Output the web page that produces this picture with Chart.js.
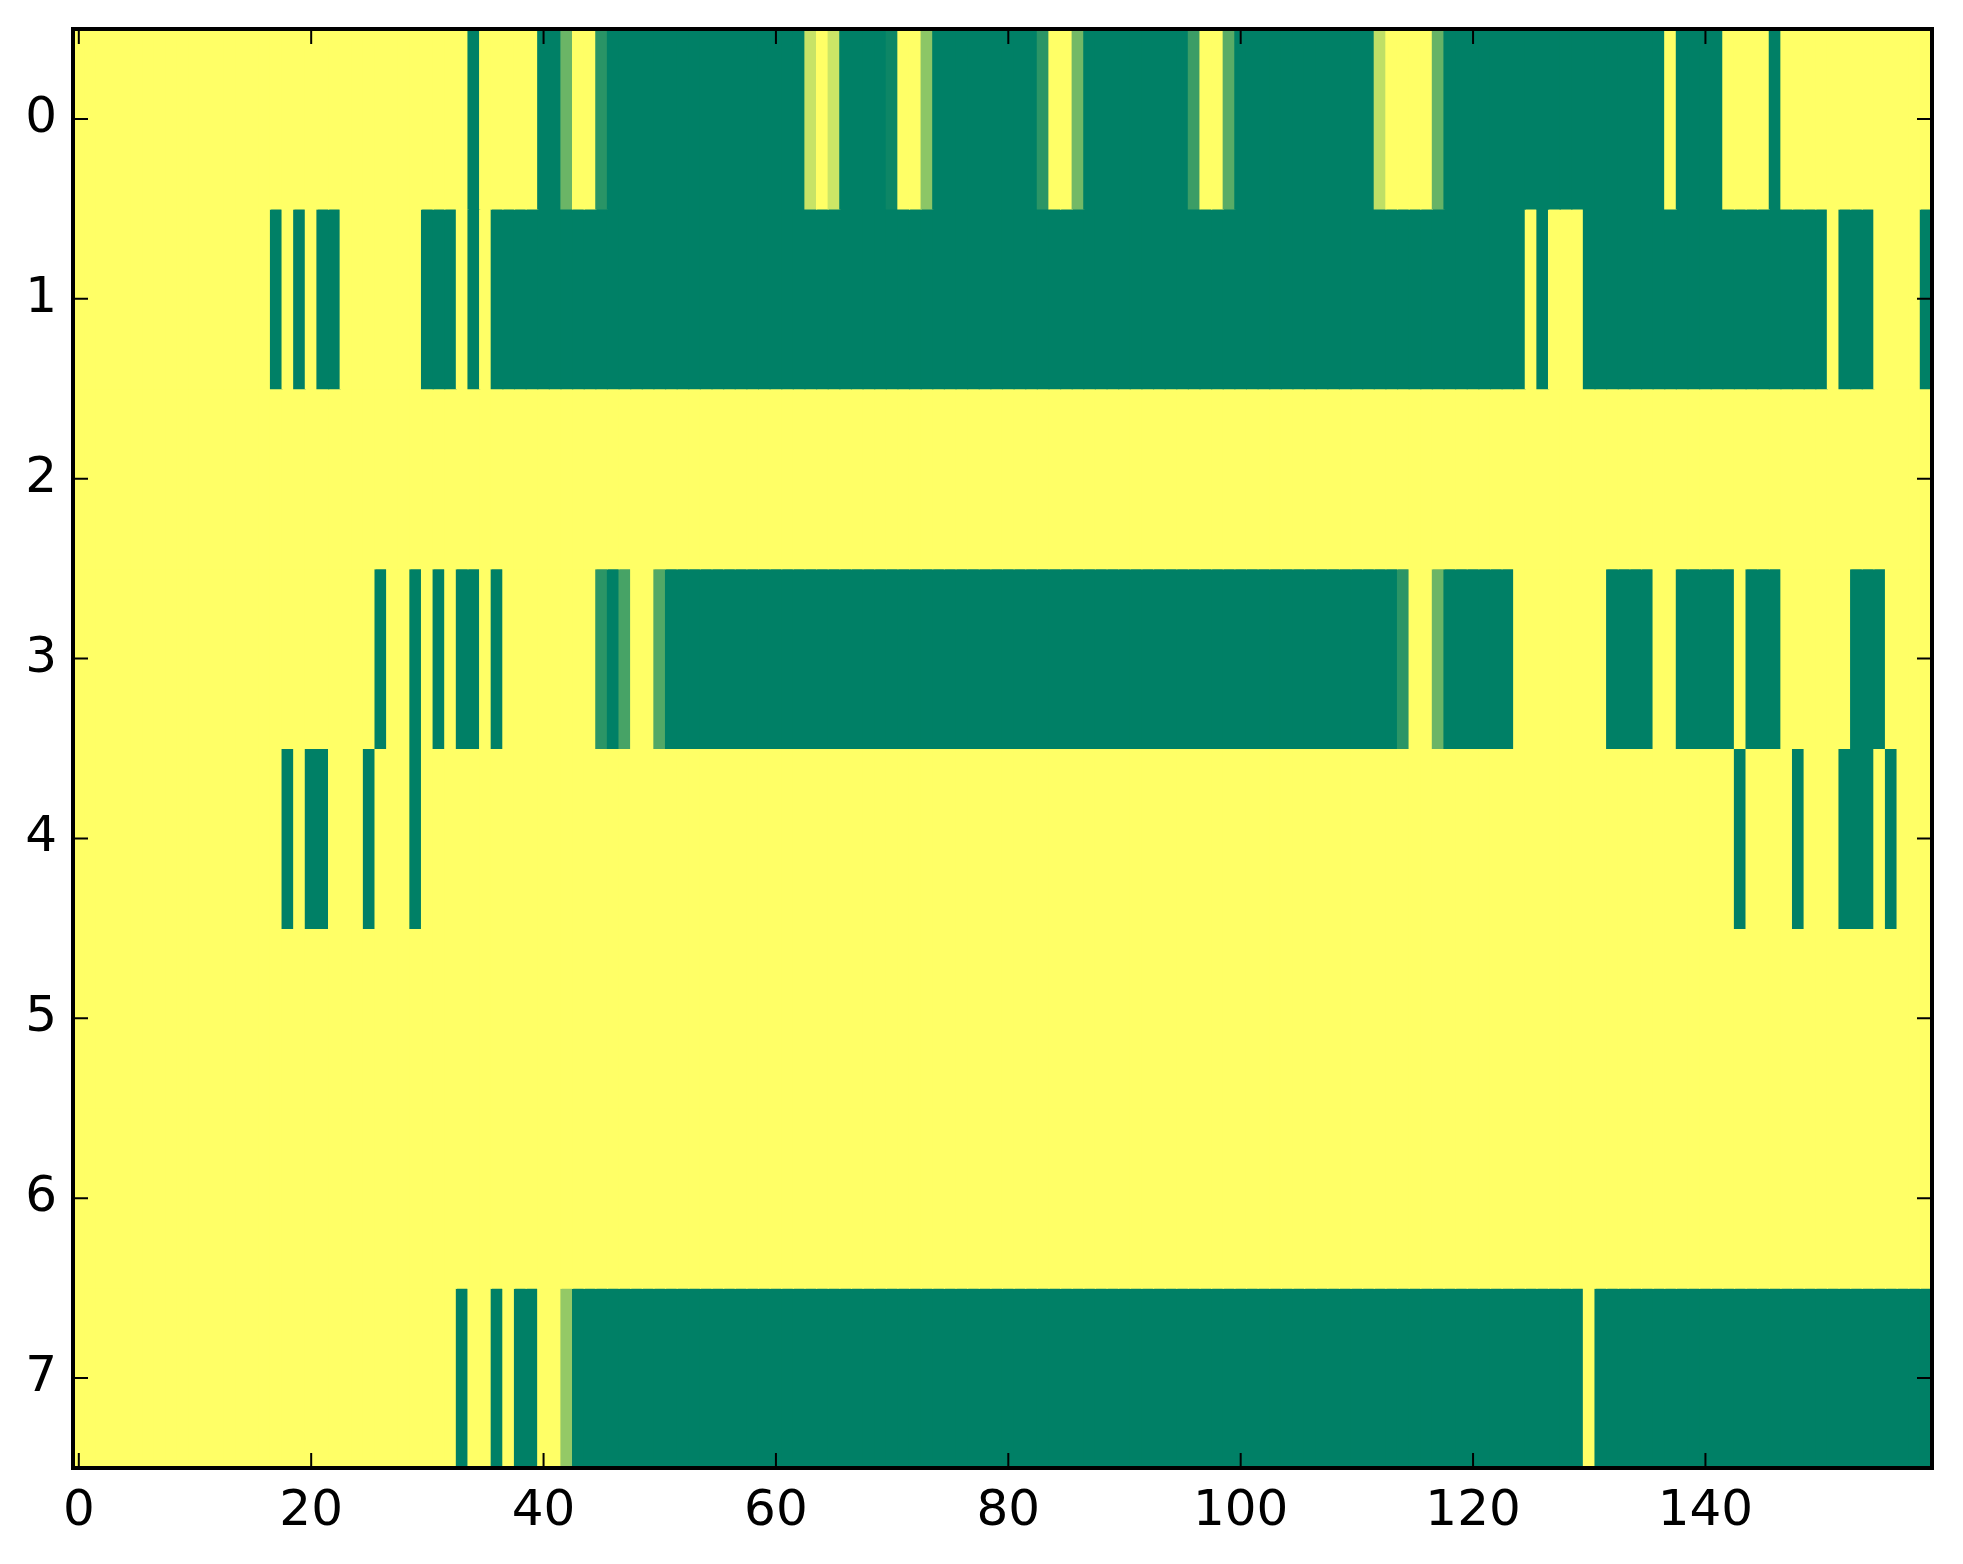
<!DOCTYPE html>
<html>
<head>
<meta charset="utf-8">
<script src="https://cdn.jsdelivr.net/npm/chart.js@4.4.0/dist/chart.umd.min.js"></script>
<style>
  html, body { margin: 0; padding: 0; background: #fff; }
  #wrap { width: 1963px; height: 1564px; position: relative; }
</style>
</head>
<body>
<div id="wrap"><canvas id="chart"></canvas></div>
<script>
// one value per column (0..159) for every row, 0 = green, 1 = yellow
const row0 = [
  1,1,1,1,1,1,1,1,1,1,1,1,1,1,1,1,1,1,1,1,
  1,1,1,1,1,1,1,1,1,1,1,1,1,1,0,1,1,1,1,1,
  0,0,0.42,1,1,0.16,0,0,0,0,0,0,0,0,0,0,0,0,0,0,
  0,0,0,0.78,1,0.8,0,0,0,0,0.05,1,1,0.55,0,0,0,0,0,0,
  0,0,0,0.17,1,1,0.45,0,0,0,0,0,0,0,0,0,0.23,1,1,0.35,
  0,0,0,0,0,0,0,0,0,0,0,0,0.75,1,1,1,1,0.4,0,0,
  0,0,0,0,0,0,0,0,0,0,0,0,0,0,0,0,0,1,0,0,
  0,0,1,1,1,1,0,1,1,1,1,1,1,1,1,1,1,1,1,1
];
const row1 = [
  1,1,1,1,1,1,1,1,1,1,1,1,1,1,1,1,1,0,1,0,
  1,0,0,1,1,1,1,1,1,1,0,0,0,1,0,1,0,0,0,0,
  0,0,0,0,0,0,0,0,0,0,0,0,0,0,0,0,0,0,0,0,
  0,0,0,0,0,0,0,0,0,0,0,0,0,0,0,0,0,0,0,0,
  0,0,0,0,0,0,0,0,0,0,0,0,0,0,0,0,0,0,0,0,
  0,0,0,0,0,0,0,0,0,0,0,0,0,0,0,0,0,0,0,0,
  0,0,0,0,0,1,0,1,1,1,0,0,0,0,0,0,0,0,0,0,
  0,0,0,0,0,0,0,0,0,0,0,1,0,0,0,1,1,1,1,0
];
const row2 = [
  1,1,1,1,1,1,1,1,1,1,1,1,1,1,1,1,1,1,1,1,
  1,1,1,1,1,1,1,1,1,1,1,1,1,1,1,1,1,1,1,1,
  1,1,1,1,1,1,1,1,1,1,1,1,1,1,1,1,1,1,1,1,
  1,1,1,1,1,1,1,1,1,1,1,1,1,1,1,1,1,1,1,1,
  1,1,1,1,1,1,1,1,1,1,1,1,1,1,1,1,1,1,1,1,
  1,1,1,1,1,1,1,1,1,1,1,1,1,1,1,1,1,1,1,1,
  1,1,1,1,1,1,1,1,1,1,1,1,1,1,1,1,1,1,1,1,
  1,1,1,1,1,1,1,1,1,1,1,1,1,1,1,1,1,1,1,1
];
const row3 = [
  1,1,1,1,1,1,1,1,1,1,1,1,1,1,1,1,1,1,1,1,
  1,1,1,1,1,1,0,1,1,0,1,0,1,0,0,1,0,1,1,1,
  1,1,1,1,1,0.17,0,0.28,1,1,0.32,0,0,0,0,0,0,0,0,0,
  0,0,0,0,0,0,0,0,0,0,0,0,0,0,0,0,0,0,0,0,
  0,0,0,0,0,0,0,0,0,0,0,0,0,0,0,0,0,0,0,0,
  0,0,0,0,0,0,0,0,0,0,0,0,0,0,0.17,1,1,0.42,0,0,
  0,0,0,0,1,1,1,1,1,1,1,1,0,0,0,0,1,1,0,0,
  0,0,0,1,0,0,0,1,1,1,1,1,1,0,0,0,1,1,1,1
];
const row4 = [
  1,1,1,1,1,1,1,1,1,1,1,1,1,1,1,1,1,1,0,1,
  0,0,1,1,1,0,1,1,1,0,1,1,1,1,1,1,1,1,1,1,
  1,1,1,1,1,1,1,1,1,1,1,1,1,1,1,1,1,1,1,1,
  1,1,1,1,1,1,1,1,1,1,1,1,1,1,1,1,1,1,1,1,
  1,1,1,1,1,1,1,1,1,1,1,1,1,1,1,1,1,1,1,1,
  1,1,1,1,1,1,1,1,1,1,1,1,1,1,1,1,1,1,1,1,
  1,1,1,1,1,1,1,1,1,1,1,1,1,1,1,1,1,1,1,1,
  1,1,1,0,1,1,1,1,0,1,1,1,0,0,0,1,0,1,1,1
];
const row5 = [
  1,1,1,1,1,1,1,1,1,1,1,1,1,1,1,1,1,1,1,1,
  1,1,1,1,1,1,1,1,1,1,1,1,1,1,1,1,1,1,1,1,
  1,1,1,1,1,1,1,1,1,1,1,1,1,1,1,1,1,1,1,1,
  1,1,1,1,1,1,1,1,1,1,1,1,1,1,1,1,1,1,1,1,
  1,1,1,1,1,1,1,1,1,1,1,1,1,1,1,1,1,1,1,1,
  1,1,1,1,1,1,1,1,1,1,1,1,1,1,1,1,1,1,1,1,
  1,1,1,1,1,1,1,1,1,1,1,1,1,1,1,1,1,1,1,1,
  1,1,1,1,1,1,1,1,1,1,1,1,1,1,1,1,1,1,1,1
];
const row6 = [
  1,1,1,1,1,1,1,1,1,1,1,1,1,1,1,1,1,1,1,1,
  1,1,1,1,1,1,1,1,1,1,1,1,1,1,1,1,1,1,1,1,
  1,1,1,1,1,1,1,1,1,1,1,1,1,1,1,1,1,1,1,1,
  1,1,1,1,1,1,1,1,1,1,1,1,1,1,1,1,1,1,1,1,
  1,1,1,1,1,1,1,1,1,1,1,1,1,1,1,1,1,1,1,1,
  1,1,1,1,1,1,1,1,1,1,1,1,1,1,1,1,1,1,1,1,
  1,1,1,1,1,1,1,1,1,1,1,1,1,1,1,1,1,1,1,1,
  1,1,1,1,1,1,1,1,1,1,1,1,1,1,1,1,1,1,1,1
];
const row7 = [
  1,1,1,1,1,1,1,1,1,1,1,1,1,1,1,1,1,1,1,1,
  1,1,1,1,1,1,1,1,1,1,1,1,1,0,1,1,0,1,0,0,
  1,1,0.58,0,0,0,0,0,0,0,0,0,0,0,0,0,0,0,0,0,
  0,0,0,0,0,0,0,0,0,0,0,0,0,0,0,0,0,0,0,0,
  0,0,0,0,0,0,0,0,0,0,0,0,0,0,0,0,0,0,0,0,
  0,0,0,0,0,0,0,0,0,0,0,0,0,0,0,0,0,0,0,0,
  0,0,0,0,0,0,0,0,0,0,1,0,0,0,0,0,0,0,0,0,
  0,0,0,0,0,0,0,0,0,0,0,0,0,0,0,0,0,0,0,0
];

const rows = [row0, row1, row2, row3, row4, row5, row6, row7];
const xTicks = [0, 20, 40, 60, 80, 100, 120, 140];
const yTicks = [0, 1, 2, 3, 4, 5, 6, 7];

// matplotlib "summer" colormap
function summer(v) {
  const r = Math.round(255 * v);
  const g = Math.round(127.5 + 127.5 * v);
  return 'rgb(' + r + ',' + g + ',102)';
}

const datasets = rows.map(function (vals, r) {
  return {
    data: vals.map(function (v, c) { return { x: c, y: [r - 0.5, r + 0.5] }; }),
    backgroundColor: vals.map(summer),
    borderWidth: 0,
    inflateAmount: 0.6,
    barPercentage: 1,
    categoryPercentage: 1,
    grouped: false
  };
});

// frame with inward ticks on all four sides
const framePlugin = {
  id: 'frame',
  afterDraw(chart) {
    const ctx = chart.ctx;
    const a = chart.chartArea;
    const xs = chart.scales.x;
    const ys = chart.scales.y;
    const len = 15;
    ctx.save();
    ctx.strokeStyle = '#000';
    ctx.lineWidth = 2;
    ctx.beginPath();
    xTicks.forEach(function (t) {
      const px = xs.getPixelForValue(t);
      ctx.moveTo(px, a.bottom); ctx.lineTo(px, a.bottom - len);
      ctx.moveTo(px, a.top); ctx.lineTo(px, a.top + len);
    });
    yTicks.forEach(function (t) {
      const py = ys.getPixelForValue(t);
      ctx.moveTo(a.left, py); ctx.lineTo(a.left + len, py);
      ctx.moveTo(a.right, py); ctx.lineTo(a.right - len, py);
    });
    ctx.stroke();
    ctx.lineWidth = 4;
    ctx.strokeRect(a.left, a.top, a.right - a.left, a.bottom - a.top);
    ctx.restore();
  }
};

const tickFont = { family: 'DejaVu Sans', size: 50 };

function noPadding(scale) {
  scale.paddingTop = 0;
  scale.paddingBottom = 0;
  scale.paddingLeft = 0;
  scale.paddingRight = 0;
}

new Chart(document.getElementById('chart'), {
  type: 'bar',
  data: { datasets: datasets },
  options: {
    responsive: true,
    maintainAspectRatio: false,
    animation: false,
    layout: { autoPadding: false, padding: { top: 29, right: 31, left: 0, bottom: 0 } },
    plugins: { legend: { display: false }, tooltip: { enabled: false } },
    scales: {
      x: {
        type: 'linear',
        min: -0.5,
        max: 159.5,
        offset: false,
        grid: { display: false, drawTicks: false, tickLength: 0 },
        border: { display: false },
        afterFit(scale) { scale.height = 96; noPadding(scale); },
        afterBuildTicks(scale) { scale.ticks = xTicks.map(function (v) { return { value: v }; }); },
        ticks: { font: tickFont, color: '#000', padding: 14, maxRotation: 0, autoSkip: false }
      },
      y: {
        type: 'linear',
        reverse: true,
        min: -0.5,
        max: 7.5,
        grid: { display: false, drawTicks: false, tickLength: 0 },
        border: { display: false },
        afterFit(scale) { scale.width = 73; noPadding(scale); },
        afterBuildTicks(scale) { scale.ticks = yTicks.map(function (v) { return { value: v }; }); },
        ticks: { font: tickFont, color: '#000', padding: 16, autoSkip: false }
      }
    }
  },
  plugins: [framePlugin]
});
</script>
</body>
</html>
